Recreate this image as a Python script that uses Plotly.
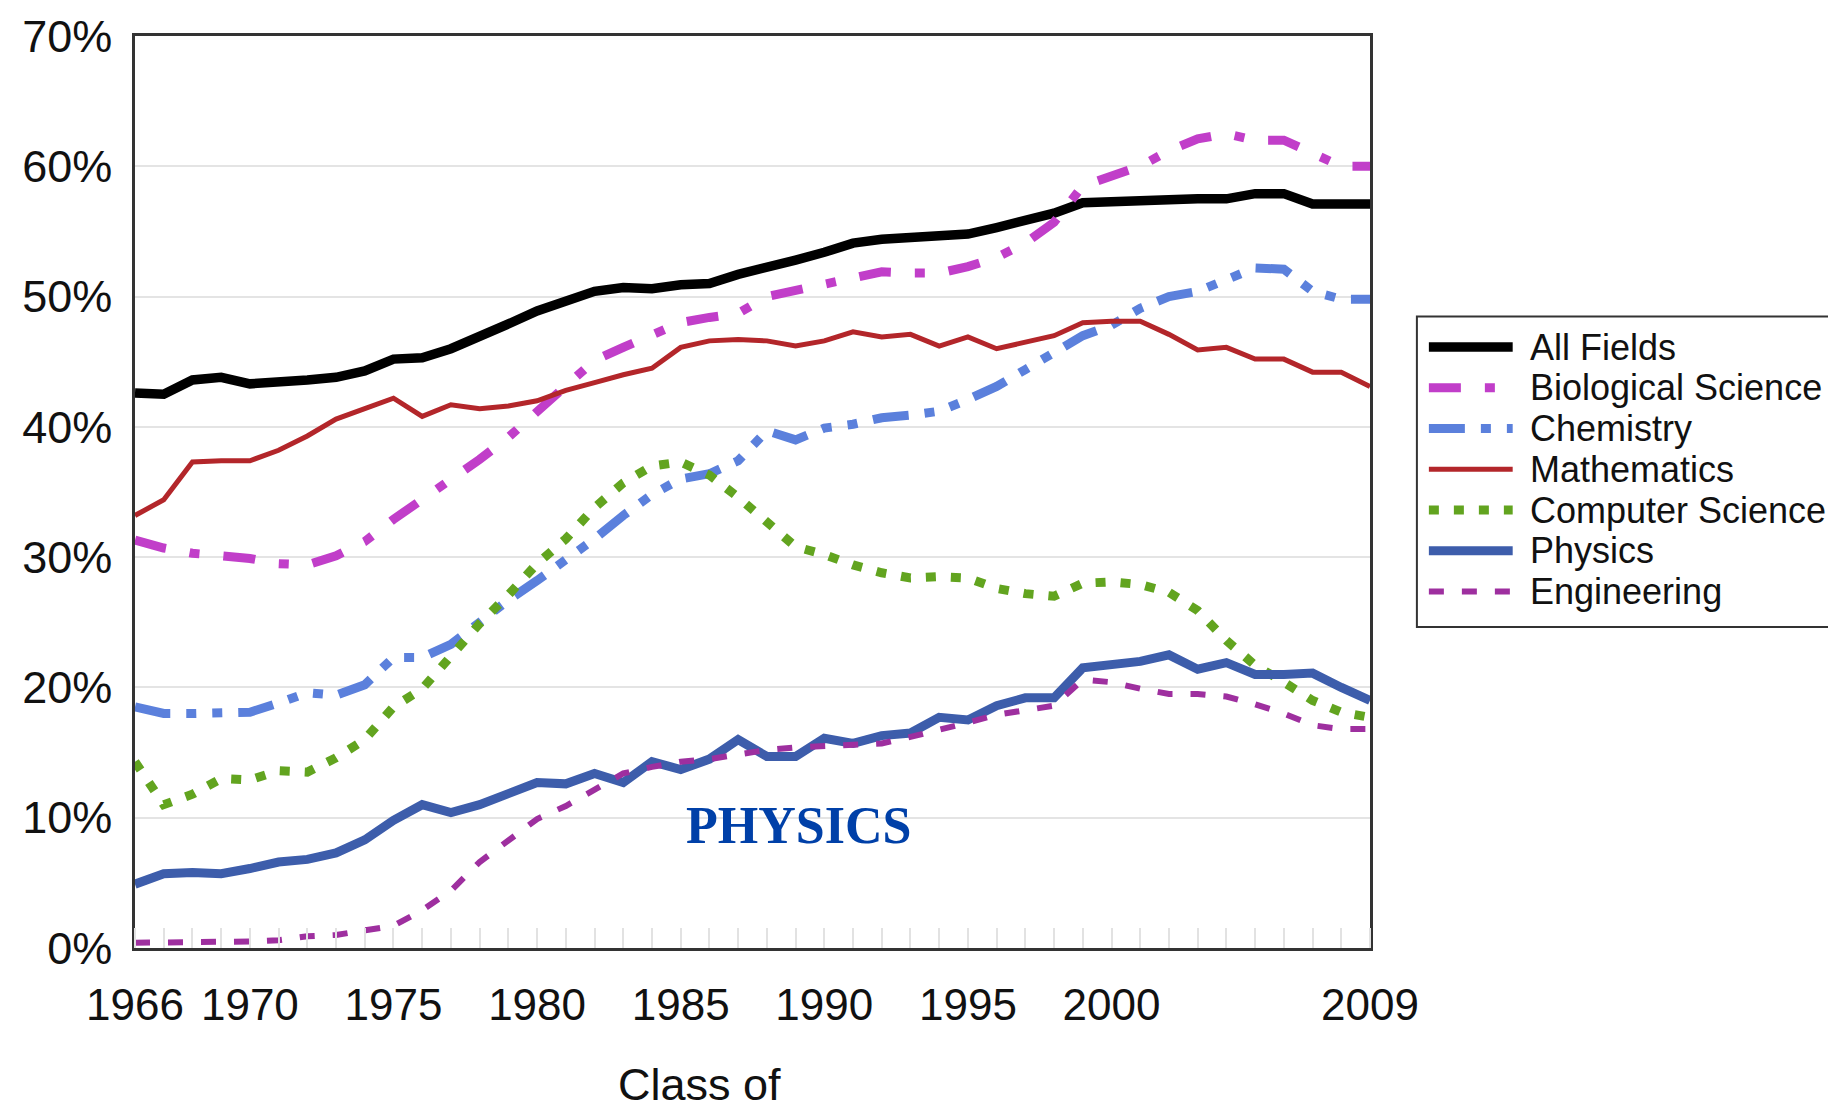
import plotly.graph_objects as go

# Class of ... (graduating year)
years = list(range(1966, 2010))

# share of women (%) by field
all_fields = [42.6, 42.5, 43.6, 43.8, 43.3, 43.4, 43.6, 43.8, 44.3, 45.2,
              45.3, 46.0, 46.9, 47.9, 48.9, 49.7, 50.4, 50.7, 50.6, 50.9,
              51.0, 51.7, 52.2, 52.8, 53.4, 54.1, 54.4, 54.5, 54.7, 54.8,
              55.3, 55.8, 56.4, 57.2, 57.3, 57.4, 57.4, 57.5, 57.5, 57.9,
              57.9, 57.1, 57.1, 57.1]
biology = [31.3, 30.7, 30.3, 30.1, 29.9, 29.5, 29.4, 30.1, 31.2, 32.9,
           34.4, 35.9, 37.5, 39.2, 41.2, 43.1, 45.1, 46.1, 47.1, 48.0,
           48.4, 48.7, 50.0, 50.5, 51.0, 51.4, 51.9, 51.8, 51.8, 52.3,
           53.0, 54.1, 55.7, 58.5, 59.2, 60.0, 61.2, 62.1, 62.5, 62.0,
           62.0, 61.0, 60.0, 60.0]
chemistry = [18.5, 18.0, 18.0, 18.1, 18.1, 18.8, 19.6, 19.4, 20.2, 22.3,
             22.3, 23.3, 25.1, 26.7, 28.2, 29.7, 31.4, 33.2, 34.8, 36.0,
             36.4, 37.4, 39.7, 39.0, 39.9, 40.2, 40.7, 40.9, 41.2, 42.1,
             43.1, 44.4, 45.8, 47.0, 47.8, 49.1, 50.0, 50.4, 51.3, 52.2,
             52.1, 50.4, 49.8, 49.8]
mathematics = [33.2, 34.4, 37.3, 37.4, 37.4, 38.2, 39.3, 40.6, 41.4, 42.2,
               40.8, 41.7, 41.4, 41.6, 42.0, 42.8, 43.4, 44.0, 44.5, 46.1,
               46.6, 46.7, 46.6, 46.2, 46.6, 47.3, 46.9, 47.1, 46.2, 46.9,
               46.0, 46.5, 47.0, 48.0, 48.1, 48.1, 47.1, 45.9, 46.1, 45.2,
               45.2, 44.2, 44.2, 43.1]
computer_science = [14.3, 11.0, 11.8, 13.0, 12.9, 13.6, 13.5, 14.6, 16.0, 18.5,
                    19.9, 22.4, 24.9, 27.1, 29.5, 31.4, 33.8, 35.7, 37.0, 37.3,
                    36.3, 34.6, 32.6, 30.8, 30.2, 29.4, 28.8, 28.4, 28.5, 28.4,
                    27.6, 27.2, 27.0, 28.0, 28.1, 27.9, 27.3, 25.9, 23.6, 21.7,
                    20.4, 19.0, 18.1, 17.7]
physics = [4.9, 5.7, 5.8, 5.7, 6.1, 6.6, 6.8, 7.3, 8.3, 9.8,
           11.0, 10.4, 11.0, 11.8, 12.7, 12.6, 13.4, 12.7, 14.3, 13.7,
           14.5, 16.0, 14.7, 14.7, 16.1, 15.7, 16.3, 16.5, 17.7, 17.5,
           18.6, 19.2, 19.2, 21.5, 21.7, 22.0, 22.5, 21.4, 21.9, 21.0,
           21.0, 21.1, 20.0, 19.0]
engineering = [0.4, 0.4, 0.4, 0.5, 0.5, 0.6, 0.9, 1.0, 1.3, 1.7,
               2.9, 4.4, 6.6, 8.3, 9.9, 10.9, 12.1, 13.4, 13.9, 14.3,
               14.5, 14.9, 15.2, 15.4, 15.5, 15.6, 15.7, 16.2, 16.7, 17.3,
               17.9, 18.2, 18.6, 20.6, 20.4, 19.9, 19.5, 19.5, 19.3, 18.7,
               18.0, 17.1, 16.8, 16.8]

x_tick_years = [1966, 1970, 1975, 1980, 1985, 1990, 1995, 2000, 2009]
y_ticks = [0, 10, 20, 30, 40, 50, 60, 70]

series = [
    ("All Fields", all_fields, "#000000", 9.5, "solid"),
    ("Biological Science", biology, "#c13ec9", 9, "32px,24px,10px,24px"),
    ("Chemistry", chemistry, "#5b80dc", 9, "36px,16px,10px,16px,10px,16px"),
    ("Mathematics", mathematics, "#b3262a", 5, "solid"),
    ("Computer Science", computer_science, "#62a41f", 9, "10px,15px"),
    ("Physics", physics, "#3d5dab", 9, "solid"),
    ("Engineering", engineering, "#9e2f9f", 6, "15px,18px"),
]

fig = go.Figure()
for name, vals, color, width, dash in series:
    fig.add_trace(go.Scatter(
        x=years, y=vals, name=name, mode="lines", showlegend=False,
        line=dict(color=color, width=width, dash=dash),
    ))

font_family = "Liberation Sans, Arial, sans-serif"

# plot area in page pixels (used to place the hand-made legend box)
PX_LEFT, PX_RIGHT, PX_TOP, PX_BOTTOM = 132.3, 1370.0, 35.0, 948.5


def px_x(x):
    return (x - PX_LEFT) / (PX_RIGHT - PX_LEFT)


def px_y(y):
    return (PX_BOTTOM - y) / (PX_BOTTOM - PX_TOP)


# legend drawn by hand: tighter rows and bigger text than plotly's own legend
shapes = [dict(type="rect", xref="paper", yref="paper",
               x0=px_x(1417), x1=px_x(1834), y0=px_y(316), y1=px_y(627),
               line=dict(color="#333", width=2), fillcolor="white", layer="above")]
annotations = []
for i, (name, vals, color, width, dash) in enumerate(series):
    row_y = px_y(346.6 + 40.8 * i)
    shapes.append(dict(type="line", xref="paper", yref="paper",
                       x0=px_x(1429), x1=px_x(1513), y0=row_y, y1=row_y,
                       line=dict(color=color, width=width, dash=dash),
                       layer="above"))
    annotations.append(dict(text=name, xref="paper", yref="paper",
                            x=px_x(1528), y=row_y, xanchor="left", yanchor="middle",
                            showarrow=False, font=dict(size=36, color="#111")))

annotations += [
    dict(text="PHYSICS", x=1989.1, y=9.4, xref="x", yref="y",
         showarrow=False, xanchor="center", yanchor="middle",
         font=dict(family="Liberation Serif, Times New Roman, serif",
                   size=52, color="#0040a8", weight="bold")),
    dict(text="Class of", x=0.457, y=-0.150,
         xref="paper", yref="paper", showarrow=False,
         xanchor="center", yanchor="middle",
         font=dict(size=45, color="#111")),
]

# page body adds a small offset, margins are compensated for it
fig.update_layout(
    width=1836, height=1114,
    margin=dict(l=127, r=474, t=28, b=174, autoexpand=False),
    paper_bgcolor="white", plot_bgcolor="white",
    font=dict(family=font_family, color="#111", size=44),
    showlegend=False,
    shapes=shapes,
    annotations=annotations,
)

fig.update_xaxes(
    range=[1966, 2009],
    tickvals=x_tick_years, ticktext=[str(v) for v in x_tick_years],
    ticks="", ticklabelstandoff=16,
    showgrid=False, zeroline=False,
    showline=True, mirror=True, linecolor="#333", linewidth=2.5,
    minor=dict(ticks="inside", tick0=1966, dtick=1, ticklen=20,
               tickcolor="#e2e2e2", tickwidth=1.5, showgrid=False),
    tickfont=dict(size=44),
)
fig.update_yaxes(
    range=[0, 70],
    tickvals=y_ticks, ticktext=[f"{v}%" for v in y_ticks],
    ticks="", ticklabelstandoff=11,
    showgrid=True, gridcolor="#e4e4e4", gridwidth=1.5,
    zeroline=False,
    showline=True, mirror=True, linecolor="#333", linewidth=2.5,
    tickfont=dict(size=45),
)

fig.write_html("out.html")
